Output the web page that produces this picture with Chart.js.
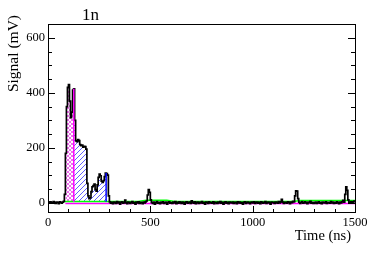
<!DOCTYPE html>
<html>
<head>
<meta charset="utf-8">
<script src="https://cdn.jsdelivr.net/npm/chart.js@4/dist/chart.umd.min.js"></script>
<style>
  body { margin: 0; background: #fff; }
  canvas { display: block; }
</style>
</head>
<body>
<canvas id="myChart" width="374" height="253"></canvas>
<script>
// waveform, 5 ns bins from 0 to 1500 ns (mV)
const binWidth = 5;
const signal = [
    2, -1, 3, 0, -2, 4, 1, -3, 2, 0, -4, 3, 1, -2, 2, 5, 30, 180, 350, 420,
    430, 370, 310, 330, 410, 415, 300, 225, 222, 230, 226, 212, 208, 210, 202, 205, 204, 195, 70, 25,
    15, 18, 40, 58, 62, 68, 48, 42, 65, 92, 104, 98, 78, 74, 80, 95, 108, 106, 100, 25,
    3, -2, 1, -4, 2, 0, -3, 4, -1, 2, -5, 1, 3, -2, 0, 9, -1, -4, 2, 0,
    -3, 1, 4, -2, 0, -5, 2, -1, 3, -3, 1, 0, -4, 2, -1, 3, 6, 28, 48, 38,
    10, 1, -3, 2, -5, 0, 4, -2, 1, -4, 2, -1, 3, -3, 0, 2, -5, 1, 3, -2,
    0, -3, 2, -1, 4, -4, 1, -2, 3, 0, -3, 2, -1, -5, 1, 3, -2, 0, 2, -3,
    7, 1, -2, 3, -4, 0, 2, -3, 1, -1, 4, -2, 0, -5, 2, 1, -3, 3, -1, 0,
    -2, 3, -4, 1, 0, -3, 2, -1, 4, -2, 1, -5, 0, 3, -2, 1, -4, 2, 0, -1,
    2, -3, 1, 0, -4, 3, -1, 2, -2, 0, -5, 1, 3, -3, 0, 2, -1, -4, 1, 2,
    -1, 3, -3, 0, 2, -2, 1, -4, 3, 0, -2, 1, 4, -3, 0, 2, -1, -5, 2, 0,
    1, -3, 2, 0, -2, 4, -1, 3, 12, 2, -3, 1, 0, -2, 3, 1, -4, 2, 0, 5,
    3, 25, 43, 42, 15, 2, -3, 1, 4, -2, 0, 3, -1, -4, 2, 0, 5, -2, 1, -3,
    -1, 2, -3, 0, 3, -2, 1, -4, 2, 0, -1, 3, -3, 1, 0, -2, 4, -1, 2, -3,
    1, -2, 3, 0, -4, 2, -1, 3, 8, 2, 30, 58, 45, 10, 2, -2, 4, 0, 3, 6
];

// integration windows (ns)
const promptWindow = [85, 126];
const delayedWindow = [126, 284];
const fillBase = 3;

// baseline curves
const greenT = [80, 300, 440, 480, 580, 620, 1200, 1230, 1500];
const greenV = [4, 4, 4, 9, 9, 4, 4, 8, 8];
const magentaT = [85, 1500];
const magentaV = [-3, -3];

const xTicks = [0, 500, 1000, 1500];
const yTicks = [0, 200, 400, 600];

const serif = "'Liberation Serif', 'DejaVu Serif', serif";

// ビンの値を取得
function valueAt(t) {
    return signal[Math.min(signal.length - 1, Math.floor(t / binWidth))];
}

// ヒストグラムの階段データ（区間 a〜b）
function histPoints(a, b) {
    const pts = [{ x: a, y: valueAt(a) }];
    for (let i = 0; i < signal.length; i++) {
        const t = i * binWidth;
        if (t > a && t < b) pts.push({ x: t, y: signal[i] });
    }
    pts.push({ x: b, y: valueAt(b - 0.01) });
    return pts;
}

// ハッチパターン
function hatch(color, size, cross) {
    const c = document.createElement('canvas');
    c.width = size; c.height = size;
    const g = c.getContext('2d');
    g.strokeStyle = color;
    g.lineWidth = 1;
    g.beginPath();
    g.moveTo(0, size); g.lineTo(size, 0);
    g.moveTo(-1, 1); g.lineTo(1, -1);
    g.moveTo(size - 1, size + 1); g.lineTo(size + 1, size - 1);
    if (cross) {
        g.moveTo(0, 0); g.lineTo(size, size);
        g.moveTo(-1, size - 1); g.lineTo(1, size + 1);
        g.moveTo(size - 1, -1); g.lineTo(size + 1, 1);
    }
    g.stroke();
    return g.createPattern(c, 'repeat');
}

const frameTicks = {
    id: 'frameTicks',
    afterDatasetsDraw(chart) {
        const { ctx, chartArea: a, scales: { x, y } } = chart;
        ctx.save();
        ctx.strokeStyle = '#000';
        ctx.lineWidth = 1;
        ctx.beginPath();
        for (let t = 0; t <= 1500; t += 100) {
            const px = Math.round(x.getPixelForValue(t)) + 0.5;
            const len = xTicks.includes(t) ? 6 : 3;
            ctx.moveTo(px, a.bottom); ctx.lineTo(px, a.bottom - len);
        }
        for (let v = 0; v <= 650; v += 50) {
            const py = Math.round(y.getPixelForValue(v)) + 0.5;
            const len = yTicks.includes(v) ? 7 : 4;
            ctx.moveTo(a.left, py); ctx.lineTo(a.left + len, py);
            ctx.moveTo(a.right, py); ctx.lineTo(a.right - len, py);
        }
        ctx.stroke();
        ctx.strokeRect(Math.round(a.left) + 0.5, Math.round(a.top) + 0.5,
            Math.round(a.right - a.left), Math.round(a.bottom - a.top));
        ctx.restore();
    },
    afterDraw(chart) {
        const ctx = chart.ctx;
        ctx.save();
        ctx.fillStyle = '#000';
        ctx.textBaseline = 'alphabetic';
        ctx.font = '17px ' + serif;
        ctx.textAlign = 'left';
        ctx.fillText('1n', 82, 19.5);
        ctx.font = '14.5px ' + serif;
        ctx.textAlign = 'right';
        ctx.fillText('Time (ns)', 351, 240);
        ctx.translate(17.5, 15);
        ctx.rotate(-Math.PI / 2);
        ctx.font = '15.5px ' + serif;
        ctx.fillText('Signal (mV)', 0, 0);
        ctx.restore();
    }
};

function renderChart() {
    const wavePoints = signal.map((v, i) => ({ x: i * binWidth, y: v }));
    wavePoints.push({ x: signal.length * binWidth, y: signal[signal.length - 1] });

    const ctx = document.getElementById('myChart').getContext('2d');
    new Chart(ctx, {
        type: 'line',
        data: {
            datasets: [
                {
                    // magenta vertical
                    data: [{ x: promptWindow[1], y: fillBase }, { x: promptWindow[1], y: valueAt(promptWindow[1] - 0.01) }],
                    borderColor: '#ff00ff', borderWidth: 1.5, order: 0
                },
                {
                    // blue vertical
                    data: [{ x: delayedWindow[1], y: fillBase }, { x: delayedWindow[1], y: valueAt(delayedWindow[1] - 0.01) }],
                    borderColor: '#0000ff', borderWidth: 1.5, order: 0
                },
                {
                    data: wavePoints,
                    borderColor: '#000', borderWidth: 1.7, stepped: true, order: 1
                },
                {
                    data: greenT.map((t, i) => ({ x: t, y: greenV[i] })),
                    borderColor: '#00ff00', borderWidth: 1.5, order: 2
                },
                {
                    data: magentaT.map((t, i) => ({ x: t, y: magentaV[i] })),
                    borderColor: '#ff00ff', borderWidth: 1.5, order: 2
                },
                {
                    data: histPoints(promptWindow[0], promptWindow[1]),
                    borderWidth: 0, stepped: true, order: 3,
                    fill: { value: fillBase },
                    backgroundColor: hatch('rgba(235,80,235,0.85)', 4, true)
                },
                {
                    data: histPoints(delayedWindow[0], delayedWindow[1]),
                    borderWidth: 0, stepped: true, order: 3,
                    fill: { value: fillBase },
                    backgroundColor: hatch('rgba(80,80,255,0.9)', 5, false)
                }
            ]
        },
        options: {
            responsive: false,
            animation: false,
            layout: { padding: { top: 24, right: 19, left: 0, bottom: 0 } },
            plugins: { legend: { display: false }, tooltip: { enabled: false } },
            elements: { point: { radius: 0 }, line: { tension: 0 } },
            scales: {
                x: {
                    type: 'linear', min: 0, max: 1500,
                    grid: { display: false, drawTicks: false },
                    border: { display: false },
                    afterBuildTicks: s => { s.ticks = xTicks.map(v => ({ value: v })); },
                    afterFit: s => { s.height = 41; },
                    ticks: {
                        font: { family: serif, size: 12.5 }, color: '#000', padding: 3,
                        maxRotation: 0, autoSkip: false, callback: v => String(v)
                    }
                },
                y: {
                    type: 'linear', min: -34, max: 651,
                    grid: { display: false, drawTicks: false },
                    border: { display: false },
                    afterBuildTicks: s => { s.ticks = yTicks.map(v => ({ value: v })); },
                    afterFit: s => { s.width = 48; },
                    ticks: {
                        font: { family: serif, size: 12.5 }, color: '#000', padding: 3,
                        autoSkip: false, callback: v => String(v)
                    }
                }
            }
        },
        plugins: [frameTicks]
    });
}

// フォント読み込み後に描画
Promise.all([
    document.fonts.load("16px 'Liberation Serif'"),
    document.fonts.load("16px 'DejaVu Serif'")
]).catch(() => {}).then(renderChart);
</script>
</body>
</html>
